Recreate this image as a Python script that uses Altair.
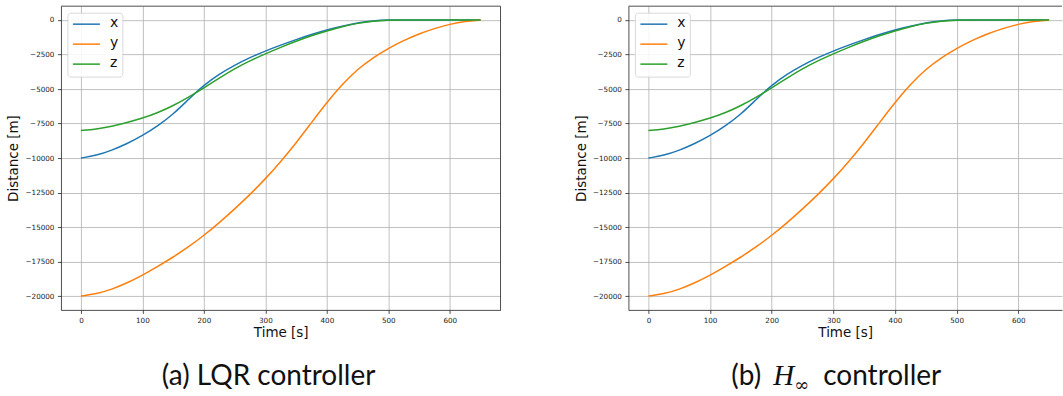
import altair as alt
import pandas as pd

# Sample times [s]
time_s = [0, 25, 50, 75, 100, 125, 150, 175, 200, 225, 250, 275, 300, 325,
          350, 375, 400, 425, 450, 475, 500, 525, 550, 575, 600, 625, 650]

# Relative position components [m]
pos_x = [-10000, -9820, -9440, -8960, -8380, -7680, -6830, -5750, -4720, -3920,
         -3280, -2715, -2245, -1820, -1420, -1050, -720, -440, -210, -60,
         0, 0, 0, 0, 0, 0, 0]
pos_y = [-20000, -19850, -19520, -19050, -18490, -17850, -17180, -16440, -15610,
         -14690, -13690, -12650, -11510, -10260, -8910, -7430, -5970, -4660,
         -3560, -2730, -2050, -1480, -1000, -610, -300, -95, 0]
pos_z = [-8000, -7910, -7700, -7430, -7120, -6720, -6210, -5590, -4920, -4200,
         -3520, -2950, -2450, -1975, -1535, -1135, -785, -475, -232, -70,
         0, 0, 0, 0, 0, 0, 0]

series_names = ["x", "y", "z"]
series_colors = ["#1f77b4", "#ff7f0e", "#2ca02c"]
x_ticks = [0, 100, 200, 300, 400, 500, 600]
y_ticks = [-20000, -17500, -15000, -12500, -10000, -7500, -5000, -2500, 0]

PLOT_H = 304
SPINE = "#222222"


def long_table(xs, ys, zs):
    rows = []
    for name, vals in zip(series_names, (xs, ys, zs)):
        for t, v in zip(time_s, vals):
            rows.append({"t": t, "d": v, "axis": name})
    return pd.DataFrame(rows)


one = pd.DataFrame({"k": [0]})


def legend_layers():
    """Boxed upper-left legend, drawn like a matplotlib legend."""
    out = [alt.Chart(one).mark_rect(
        fill="white", fillOpacity=0.85, stroke="#d0d0d0", strokeWidth=0.8,
        cornerRadius=3).encode(
        x=alt.value(7), x2=alt.value(62), y=alt.value(7), y2=alt.value(71))]
    for i, (name, col) in enumerate(zip(series_names, series_colors)):
        yy = 18 + 20 * i
        out.append(alt.Chart(one).mark_rule(color=col, strokeWidth=1.5).encode(
            x=alt.value(12), x2=alt.value(39), y=alt.value(yy)))
        out.append(alt.Chart(one).mark_text(
            text=name, font="DejaVu Sans", fontSize=14, align="left",
            baseline="middle", color="#111111").encode(
            x=alt.value(49), y=alt.value(yy - 1)))
    return out


def panel(df, width, x_max, right_spine, caption_parts):
    x_scale = alt.Scale(domain=[-32.5, x_max], nice=False, zero=False)
    y_scale = alt.Scale(domain=[-21000, 1000], nice=False, zero=False)
    lines = alt.Chart(df).mark_line(strokeWidth=1.5, interpolate="basis", clip=True).encode(
        x=alt.X("t:Q", scale=x_scale,
                axis=alt.Axis(values=x_ticks, format="d", title="Time [s]",
                              titleX=width / 2, titleY=27, titleBaseline="alphabetic",
                              titleAlign="center")),
        y=alt.Y("d:Q", scale=y_scale,
                axis=alt.Axis(values=y_ticks, format="d", title="Distance [m]",
                              titleX=-47, titleY=PLOT_H / 2, titleAngle=270,
                              titleAlign="center", titleBaseline="middle")),
        color=alt.Color("axis:N",
                        scale=alt.Scale(domain=series_names, range=series_colors),
                        legend=None),
        order=alt.Order("t:Q"),
    )
    layers = [lines]
    layers.append(alt.Chart(one).mark_rule(color=SPINE, strokeWidth=0.8).encode(
        x=alt.value(0), x2=alt.value(width), y=alt.value(0)))
    if right_spine:
        layers.append(alt.Chart(one).mark_rule(color=SPINE, strokeWidth=0.8).encode(
            x=alt.value(width), y=alt.value(0), y2=alt.value(PLOT_H)))
    layers += legend_layers()
    for text, x, y, font, size, style in caption_parts:
        layers.append(alt.Chart(one).mark_text(
            text=text, font=font, fontSize=size, fontStyle=style, align="left",
            baseline="alphabetic", color="#111111").encode(
            x=alt.value(x), y=alt.value(y)))
    return alt.layer(*layers).properties(width=width, height=PLOT_H)


lqr = long_table(pos_x, pos_y, pos_z)
hinf = long_table(pos_x, pos_y, pos_z)

left = panel(lqr, 440, 682.5, True,
             [("(a) LQR controller", 101, 379, "Lato", 28, "normal")])
right = panel(hinf, 434, 671, False,
              [("(b)", 103, 379, "Lato", 28, "normal"),
               ("H", 145, 379, "Liberation Serif", 29, "italic"),
               ("\u221e", 166, 385, "DejaVu Serif", 18, "normal"),
               ("controller", 195, 379, "Lato", 28, "normal")])

chart = alt.hconcat(left, right, spacing=73).resolve_scale(
    x="independent", y="independent").properties(
    padding={"left": 7, "top": 5, "right": 0, "bottom": 0},
    background="white",
).configure_view(stroke=None).configure_axis(
    grid=True, gridColor="#b0b0b0", gridWidth=0.8,
    domainColor=SPINE, domainWidth=0.8,
    tickColor=SPINE, tickWidth=0.8, tickSize=3.5, labelPadding=3.5,
    labelFont="DejaVu Sans", labelFontSize=7.2, labelColor="#222222",
    titleFont="DejaVu Sans", titleFontSize=13.5, titleFontWeight="normal",
    titleColor="#111111",
)

chart.save("out.html", embed_options={"renderer": "svg", "actions": False})
